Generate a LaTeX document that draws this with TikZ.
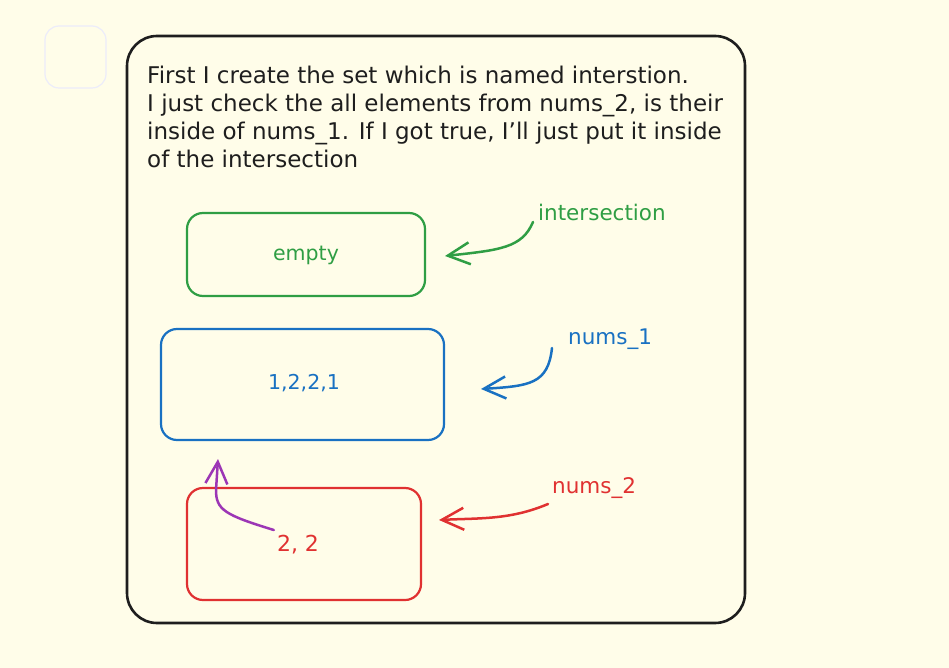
\documentclass[tikz,border=0pt]{standalone}
\usepackage{fontspec}
\setmainfont{DejaVu Sans}
\usetikzlibrary{arrows.meta}
\definecolor{bg}{RGB}{255,253,233}
\definecolor{ink}{RGB}{30,30,30}
\definecolor{cgreen}{RGB}{47,158,68}
\definecolor{cblue}{RGB}{25,113,194}
\definecolor{cred}{RGB}{224,49,49}
\definecolor{cpurple}{RGB}{156,54,181}
\definecolor{faint}{RGB}{236,236,250}
\tikzset{
  setbox/.style={draw, line width=2.2pt, rounded corners=16pt},
  lbl/.style={font=\fontsize{21.5}{24}\selectfont, inner sep=0pt, anchor=west},
  boxtext/.style={font=\fontsize{20.5}{22}\selectfont, inner sep=0pt},
  arr/.style={line width=2.5pt, line cap=round, -{Straight Barb[length=22pt,width=22pt,line width=2.5pt]}},
}
\begin{document}
\begin{tikzpicture}[x=1pt,y=-1pt]
\useasboundingbox[fill=bg] (0,0) rectangle (949,668);
% faint square
\draw[faint, line width=1.2pt, rounded corners=14pt] (45,26) rectangle (106,88);
% outer frame
\node[draw=ink, line width=2.6pt, rounded corners=30pt, minimum width=618pt, minimum height=587pt, inner sep=0pt] (frame) at (436,329.5) {};
% description
\node[anchor=north west, inner sep=0pt, align=left, text=ink, font=\fontsize{23}{28}\selectfont] (desc) at (147,66)
{First I create the set which is named interstion.\\
I just check the all elements from nums\_2, is their\\
inside of nums\_1. If I got true, I'll just put it inside\\
of the intersection};
% boxes
\node[setbox, draw=cgreen, minimum width=238pt, minimum height=83pt] (bx1) at (306,254.5) {};
\node[boxtext, text=cgreen] (t1) at (306,255) {empty};
\node[setbox, draw=cblue, minimum width=283pt, minimum height=111pt] (bx2) at (302.5,384.5) {};
\node[boxtext, text=cblue] (t2) at (304,383) {1,2,2,1};
\node[setbox, draw=cred, minimum width=234pt, minimum height=112pt] (bx3) at (304,544) {};
\node[boxtext, text=cred, font=\fontsize{22}{24}\selectfont] (t3) at (298,545) {2, 2};
% labels
\node[lbl, text=cgreen] (l1) at (538,212) {intersection};
\node[lbl, text=cblue] (l2) at (568,339) {nums\_1};
\node[lbl, text=cred] (l3) at (552,488) {nums\_2};
% arrow ends
\coordinate (e1) at (445,256);
\coordinate (e2) at (481,389);
\coordinate (e3) at (439,520);
\coordinate (e4) at (218,459);
% arrows
\draw[arr, cgreen] ([xshift=-5pt,yshift=-10pt]l1.west) .. controls (522,248) and (500,250) .. (e1);
\draw[arr, cblue] ([xshift=-16pt,yshift=-9pt]l2.west) .. controls (548,384) and (530,386) .. (e2);
\draw[arr, cred] ([xshift=-4pt,yshift=-16pt]l3.west) .. controls (510,520) and (480,518) .. (e3);
\draw[arr, cpurple] ([xshift=-3pt,yshift=15pt]t3.west) .. controls (225,515) and (216,510) .. (216,490) -- (e4);
\end{tikzpicture}
\end{document}
